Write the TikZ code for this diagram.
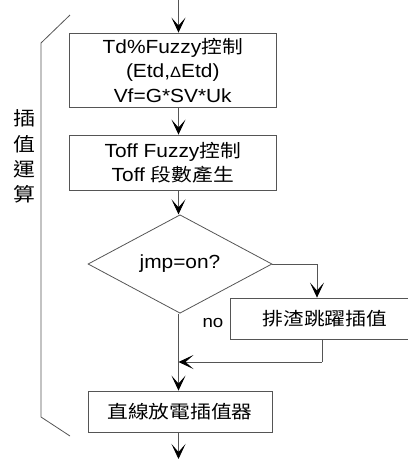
\documentclass[tikz,border=0pt]{standalone}
\usepackage{fontspec}
\setmainfont{Liberation Sans}[FakeStretch=1.1]
\newfontfamily\cjk{Noto Sans CJK TC}[FakeStretch=1.15, Scale=0.95]
\usetikzlibrary{arrows.meta,shapes.geometric}
\definecolor{ln}{HTML}{555555}
\tikzset{
  flowbox/.style={draw=ln, line width=0.8pt, rectangle, inner sep=0pt, align=center,
    font=\fontsize{19}{24.5}\selectfont},
  decbox/.style={draw=ln, line width=0.8pt, diamond, inner sep=0pt,
    minimum width=184pt, minimum height=91pt, font=\fontsize{19}{24}\selectfont},
  flow/.style={draw=ln, line width=0.8pt, -{Stealth[length=15pt,width=14pt,inset=8pt,color=black]}},
  plain/.style={draw=ln, line width=0.8pt},
  lbl/.style={font=\fontsize{20}{22}\selectfont, inner sep=0pt},
}
\begin{document}
\begin{tikzpicture}[x=1pt,y=-1pt]
\useasboundingbox (0,0) rectangle (408,459);
\clip (0,0) rectangle (408,459);
\coordinate (ax) at (178.5,0);
\coordinate (top) at (178.5,0);
\coordinate (bot) at (178.5,459);
\node[flowbox, minimum width=206.5pt, minimum height=74pt] (b1) at (172.75,70)
  {Td\%Fuzzy{\cjk 控制}\\(Etd,{\fontsize{15}{15}\selectfont Δ}Etd)\\Vf=G*SV*Uk};
\node[flowbox, minimum width=206.5pt, minimum height=55pt] (b2) at (172.75,162.5)
  {Toff Fuzzy{\cjk 控制}\\Toff {\cjk 段數產生}};
\node[decbox] (d) at (180,264) {jmp=on?};
\node[flowbox, minimum width=190pt, minimum height=41pt] (b3) at (325,318.5) {\cjk 排渣跳躍插值};
\node[flowbox, minimum width=184pt, minimum height=41pt] (b4) at (180,411.5) {\cjk 直線放電插值器};
\node[lbl, font=\fontsize{17}{17}\selectfont] (no) at (213,323) {no};
\coordinate (r1) at (317,264);
\coordinate (j1) at (322,362);
\draw[flow] (top) -- (b1.north -| ax);
\draw[flow] (b1.south -| ax) -- (b2.north -| ax);
\draw[flow] (b2.south -| ax) -- (d.north -| ax);
\draw[plain] (d.east) -- (r1);
\draw[flow] (r1) -- (b3.north -| r1);
\draw[flow] (d.south -| ax) -- (b4.north -| ax);
\draw[plain] (b3.south -| j1) -- (j1);
\draw[flow] (j1) -- (j1 -| ax);
\draw[flow] (b4.south -| ax) -- (bot);
% bracket
\coordinate (k1) at (70,15);
\coordinate (k2) at (41,43);
\coordinate (k3) at (41,417);
\coordinate (k4) at (70,436);
\draw[plain] (k1) -- (k2) -- (k3) -- (k4);
\node[lbl] (v1) at (24,118) {\cjk 插};
\node[lbl] (v2) at (24,144) {\cjk 值};
\node[lbl] (v3) at (24,169) {\cjk 運};
\node[lbl] (v4) at (24,194) {\cjk 算};
\end{tikzpicture}
\end{document}
